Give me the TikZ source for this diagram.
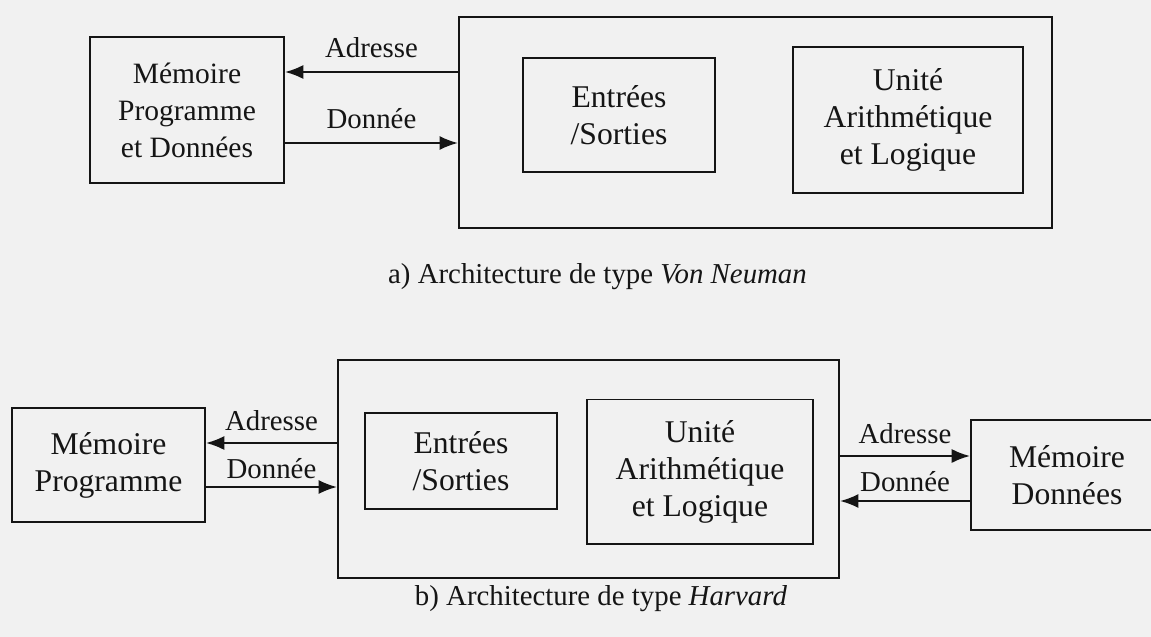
\documentclass[tikz,border=0pt]{standalone}
\usepackage{fontspec}
\setmainfont{Liberation Serif}
\usetikzlibrary{arrows.meta}
\definecolor{paper}{HTML}{F1F1F1}
\definecolor{ink}{HTML}{151515}
\tikzset{
  box/.style={draw=ink, line width=1.4pt, align=center, inner sep=0pt, text=ink,
              font=\fontsize{22.5}{26.3}\selectfont},
  arr/.style={draw=ink, line width=1.4pt, -{Latex[length=13pt, width=10pt]}},
  lbl/.style={font=\fontsize{20.5}{24}\selectfont, text=ink, anchor=base},
  caption/.style={font=\fontsize{20.5}{24}\selectfont, text=ink, anchor=base},
}

\begin{document}
\begin{tikzpicture}[x=0.025cm, y=-0.025cm]
\useasboundingbox (0,0) rectangle (1151,637);
\fill[paper] (0,0) rectangle (1151,637);
\clip (0,0) rectangle (1151,637);

% ---------------- a) Von Neuman ----------------
\begin{scope}
  \node[box, font=\fontsize{21}{26.3}\selectfont, minimum width=4.85cm, minimum height=3.65cm] (memA) at (187,110) {Mémoire\\Programme\\et Données};
  \node[box, minimum width=14.825cm, minimum height=5.25cm] (cpuA) at (755.5,122.5) {};
  \node[box, minimum width=4.8cm, minimum height=2.85cm] (ioA) at (619,115) {Entrées\\/Sorties};
  \node[box, minimum width=5.75cm, minimum height=3.65cm] (aluA) at (908,120) {Unité\\Arithmétique\\et Logique};
  \coordinate (yA1) at (0,72);
  \coordinate (yA2) at (0,143);
  \draw[arr] (cpuA.west |- yA1) -- (memA.east |- yA1) node[lbl, midway, yshift=10pt] (adrA) {Adresse};
  \draw[arr] (memA.east |- yA2) -- (cpuA.west |- yA2) node[lbl, midway, yshift=10.5pt] (donA) {Donnée};
  \node[caption] (capA) at (597.5,283) {a) Architecture de type \textit{Von Neuman}};
\end{scope}

% ---------------- b) Harvard ----------------
\begin{scope}
  \node[box, minimum width=4.825cm, minimum height=2.85cm] (memB) at (108.5,465) {Mémoire\\Programme};
  \node[box, minimum width=12.525cm, minimum height=5.45cm] (cpuB) at (588.5,469) {};
  \node[box, minimum width=4.8cm, minimum height=2.4cm] (ioB) at (461,461) {Entrées\\/Sorties};
  \node[box, minimum width=5.65cm, minimum height=3.6cm] (aluB) at (700,471.5) {Unité\\Arithmétique\\et Logique};
  \node[box, minimum width=4.8cm, minimum height=2.75cm] (memC) at (1067,475) {Mémoire\\Données};
  \coordinate (yB1) at (0,443);
  \coordinate (yB2) at (0,487);
  \coordinate (yB3) at (0,456);
  \coordinate (yB4) at (0,501);
  \draw[arr] (cpuB.west |- yB1) -- (memB.east |- yB1) node[lbl, midway, yshift=9pt] (adrB) {Adresse};
  \draw[arr] (memB.east |- yB2) -- (cpuB.west |- yB2) node[lbl, midway, yshift=6pt] (donB) {Donnée};
  \draw[arr] (cpuB.east |- yB3) -- (memC.west |- yB3) node[lbl, midway, yshift=9pt] (adrC) {Adresse};
  \draw[arr] (memC.west |- yB4) -- (cpuB.east |- yB4) node[lbl, midway, yshift=6.5pt] (donC) {Donnée};
  \node[caption] (capB) at (601,605) {b) Architecture de type \textit{Harvard}};
\end{scope}
\end{tikzpicture}
\end{document}
